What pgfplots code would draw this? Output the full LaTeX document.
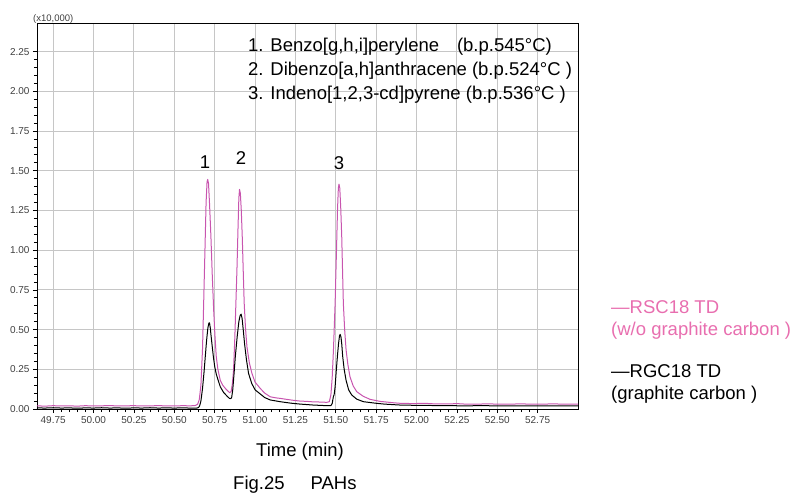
\documentclass[border=0pt]{standalone}
\usepackage{fontspec}
\setmainfont{Liberation Sans}
\usepackage{xcolor}
\usepackage{pgfplots}
\pgfplotsset{compat=1.18}

\definecolor{rsc}{RGB}{200,85,175}
\definecolor{rsctext}{RGB}{232,110,175}

\begin{document}
\begin{tikzpicture}
\path[use as bounding box] (-37pt,-90pt) rectangle (757pt,409pt);
\begin{axis}[
at={(0pt,0pt)}, anchor=south west,
scale only axis,
width=541pt, height=386pt,
xmin=49.65, xmax=53.0,
ymin=0, ymax=2.43,
xtick={49.75,50,50.25,50.5,50.75,51,51.25,51.5,51.75,52,52.25,52.5,52.75},
ytick={0,0.25,0.5,0.75,1,1.25,1.5,1.75,2,2.25},
minor tick num=4,
tick pos=left, tick align=outside,
major tick length=4pt, minor tick length=3pt,
xmajorgrids, ymajorgrids,
major grid style={gray!45, line width=0.9pt},
axis line style={line width=0.9pt},
tick style={black, line width=0.7pt},
ticklabel style={font=\fontsize{10}{12}\selectfont, text=black!75},
/pgf/number format/assume math mode=true,
xticklabel style={/pgf/number format/.cd, fixed, fixed zerofill, precision=2},
yticklabel style={/pgf/number format/.cd, fixed, fixed zerofill, precision=2},
scaled ticks=false,
]
% RSC18 TD (w/o graphite carbon)
\addplot[rsc, line width=1pt, line join=round] coordinates {
(49.65,0.020)(49.70,0.018)(49.75,0.021)(49.80,0.019)(49.85,0.020)(49.90,0.018)
(49.95,0.021)(50.00,0.019)(50.05,0.020)(50.10,0.022)(50.15,0.019)(50.20,0.020)
(50.25,0.021)(50.30,0.019)(50.35,0.020)(50.40,0.021)(50.45,0.020)(50.50,0.019)
(50.55,0.021)(50.60,0.020)(50.63,0.022)(50.645,0.03)(50.655,0.06)(50.665,0.15)
(50.675,0.38)(50.682,0.665)(50.690,1.00)(50.697,1.30)(50.703,1.43)(50.707,1.445)
(50.712,1.42)(50.718,1.30)(50.727,1.084)(50.735,0.85)(50.744,0.623)(50.752,0.46)
(50.760,0.33)(50.770,0.25)(50.785,0.18)(50.800,0.15)(50.816,0.13)(50.830,0.115)
(50.843,0.103)(50.852,0.11)(50.860,0.16)(50.867,0.245)(50.875,0.45)(50.882,0.68)
(50.888,0.874)(50.895,1.15)(50.900,1.33)(50.904,1.382)(50.909,1.36)(50.915,1.25)
(50.921,1.084)(50.927,0.87)(50.933,0.666)(50.941,0.51)(50.950,0.392)(50.965,0.29)
(50.981,0.224)(51.000,0.17)(51.032,0.13)(51.06,0.10)(51.094,0.077)(51.13,0.070)
(51.156,0.067)(51.20,0.060)(51.25,0.053)(51.279,0.050)(51.32,0.048)(51.36,0.045)
(51.40,0.044)(51.444,0.042)(51.46,0.046)(51.470,0.09)(51.478,0.20)(51.486,0.38)
(51.496,0.665)(51.504,0.98)(51.511,1.26)(51.516,1.39)(51.520,1.415)(51.525,1.39)
(51.531,1.26)(51.537,1.084)(51.542,0.87)(51.547,0.665)(51.555,0.50)(51.564,0.371)
(51.575,0.28)(51.588,0.203)(51.608,0.145)(51.630,0.109)(51.67,0.080)(51.712,0.061)
(51.774,0.048)(51.85,0.040)(51.897,0.036)(51.98,0.034)(52.05,0.036)(52.10,0.033)
(52.20,0.032)(52.25,0.034)(52.30,0.031)(52.39,0.031)(52.45,0.033)(52.50,0.030)
(52.60,0.031)(52.65,0.033)(52.70,0.030)(52.80,0.031)(52.85,0.033)(52.90,0.030)(53.00,0.031)
};
% RGC18 TD (graphite carbon)
\addplot[black, line width=1pt, line join=round] coordinates {
(49.65,0.007)(49.70,0.006)(49.75,0.008)(49.80,0.006)(49.85,0.007)(49.90,0.005)
(49.95,0.007)(50.00,0.006)(50.05,0.008)(50.10,0.006)(50.15,0.007)(50.20,0.005)
(50.25,0.007)(50.30,0.006)(50.35,0.008)(50.40,0.006)(50.45,0.007)(50.50,0.006)
(50.55,0.007)(50.60,0.006)(50.64,0.006)(50.650,0.009)(50.657,0.02)(50.665,0.05)
(50.675,0.13)(50.685,0.24)(50.692,0.33)(50.700,0.43)(50.708,0.51)(50.714,0.54)
(50.718,0.543)(50.723,0.51)(50.728,0.46)(50.733,0.413)(50.742,0.33)(50.750,0.27)
(50.760,0.22)(50.772,0.18)(50.785,0.14)(50.805,0.105)(50.826,0.082)(50.840,0.068)
(50.847,0.065)(50.855,0.07)(50.862,0.12)(50.870,0.22)(50.878,0.33)(50.890,0.46)
(50.900,0.55)(50.908,0.59)(50.914,0.597)(50.920,0.57)(50.928,0.49)(50.935,0.413)
(50.947,0.31)(50.960,0.224)(50.980,0.16)(51.001,0.12)(51.032,0.095)(51.06,0.072)
(51.094,0.057)(51.156,0.046)(51.22,0.037)(51.279,0.031)(51.36,0.025)(51.444,0.021)
(51.470,0.021)(51.478,0.035)(51.485,0.077)(51.490,0.09)(51.496,0.14)(51.503,0.24)
(51.510,0.33)(51.517,0.41)(51.523,0.46)(51.527,0.47)(51.532,0.455)(51.537,0.41)
(51.543,0.33)(51.552,0.25)(51.564,0.18)(51.580,0.12)(51.599,0.088)(51.630,0.062)
(51.671,0.046)(51.75,0.036)(51.80,0.031)(51.897,0.025)(52.0,0.023)(52.1,0.022)
(52.2,0.021)(52.3,0.020)(52.4,0.021)(52.5,0.020)(52.6,0.020)(52.7,0.019)(52.8,0.019)
(52.9,0.020)(53.0,0.019)
};
\end{axis}
% multiplier
\node[anchor=base west, inner sep=0pt, font=\fontsize{9.5}{11}\selectfont, text=black!75] at (-4pt,387pt) {(x10,000)};
% compound list
\begin{scope}[every node/.style={anchor=base west, inner sep=0pt, font=\fontsize{18.5}{22}\selectfont}]
\node at (211pt,357pt) {1. Benzo[g,h,i]perylene};
\node[anchor=base east] at (515pt,357pt) {(b.p.545°C)};
\node at (211pt,334pt) {2. Dibenzo[a,h]anthracene (b.p.524°C )};
\node at (211pt,310pt) {3. Indeno[1,2,3-cd]pyrene (b.p.536°C )};
\end{scope}
% peak numbers
\begin{scope}[every node/.style={inner sep=0pt, font=\fontsize{18.5}{22}\selectfont}]
\node at (168pt,247pt) {1};
\node at (204pt,251pt) {2};
\node at (302pt,246pt) {3};
\end{scope}
% axis title and caption
\node[anchor=base, inner sep=0pt, font=\fontsize{18.5}{22}\selectfont] at (263pt,-47.5pt) {Time (min)};
\node[anchor=base west, inner sep=0pt, font=\fontsize{18.5}{22}\selectfont] at (196pt,-80.5pt) {Fig.25\hspace{26pt}PAHs};
% legend
\begin{scope}[every node/.style={anchor=base west, inner sep=0pt, font=\fontsize{18.5}{22}\selectfont}]
\node[text=rsctext] at (574pt,96pt) {—RSC18 TD};
\node[text=rsctext] at (574pt,74pt) {(w/o graphite carbon )};
\node at (574pt,32pt) {—RGC18 TD};
\node at (574pt,10pt) {(graphite carbon )};
\end{scope}
\end{tikzpicture}
\end{document}
